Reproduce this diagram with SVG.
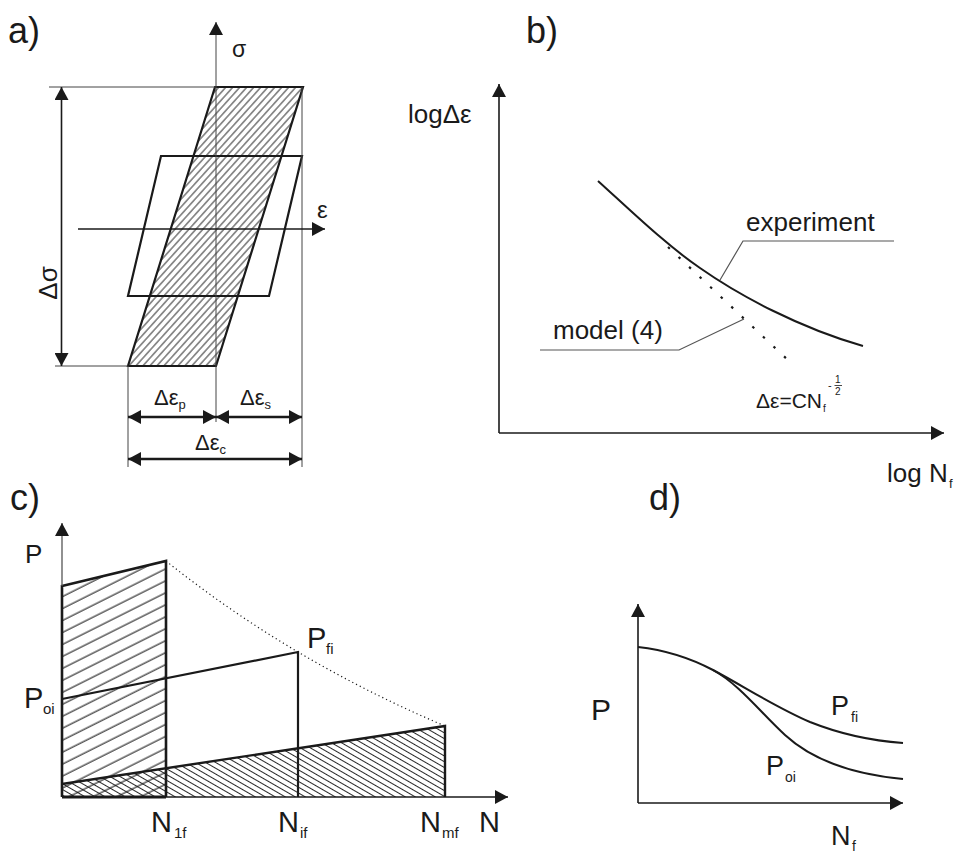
<svg xmlns="http://www.w3.org/2000/svg" width="956" height="853" viewBox="0 0 956 853">
<style>
text{font-family:"Liberation Sans",Arial,sans-serif;fill:#1a1a1a}
.thin{stroke:#444;stroke-width:1;fill:none}
.ax{stroke:#1a1a1a;stroke-width:1.6;fill:none}
.thick{stroke:#1a1a1a;stroke-width:2.2;fill:none}
.dim{stroke:#1a1a1a;stroke-width:2.6;fill:none}
.lead{stroke:#555;stroke-width:1.2;fill:none}
.crv{stroke:#1a1a1a;stroke-width:2;fill:none}
</style>
<defs>
<marker id="ah" viewBox="0 0 13 14" refX="13" refY="7" markerWidth="13" markerHeight="14" markerUnits="userSpaceOnUse" orient="auto-start-reverse"><path d="M0,0 L13,7 L0,14 z" fill="#1a1a1a"/></marker>
<pattern id="hA" patternUnits="userSpaceOnUse" width="10" height="5.2" patternTransform="rotate(-48)"><line x1="0" y1="2.6" x2="10" y2="2.6" stroke="#1a1a1a" stroke-width="0.9"/></pattern>
<pattern id="hC1" patternUnits="userSpaceOnUse" width="20" height="10.7" patternTransform="rotate(-26.6)"><line x1="0" y1="5" x2="20" y2="5" stroke="#1a1a1a" stroke-width="1.1"/></pattern>
<pattern id="hC2" patternUnits="userSpaceOnUse" width="20" height="5" patternTransform="rotate(30)"><line x1="0" y1="2.5" x2="20" y2="2.5" stroke="#1a1a1a" stroke-width="0.95"/></pattern>
</defs>
<rect width="956" height="853" fill="#fff"/>

<!-- Panel a -->
<g id="panel-a">
  <text x="8" y="43" font-size="36">a)</text>
  <g id="a-hatched-loop">
    <polygon points="215,87 303,87 216,366 128,366" fill="url(#hA)" stroke="#1a1a1a" stroke-width="2.2"/>
  </g>
  <g id="a-inner-loop">
    <polygon points="161,156 302,156 269,296 128,296" class="thick"/>
  </g>
  <g id="a-guides">
    <line x1="49" y1="87" x2="215" y2="87" class="thin"/>
    <line x1="302" y1="87" x2="302" y2="467" class="thin"/>
    <line x1="128" y1="366" x2="128" y2="467" class="thin"/>
    <line x1="55" y1="366" x2="128" y2="366" class="thin"/>
  </g>
  <g id="a-axes">
    <line x1="216" y1="422" x2="216" y2="22" class="thin" stroke-width="1.3" marker-end="url(#ah)"/>
    <line x1="78" y1="229" x2="325" y2="229" class="ax" stroke-width="2.2" marker-end="url(#ah)"/>
    <text x="232" y="57" font-size="23">σ</text>
    <text x="317" y="218" font-size="24">ε</text>
  </g>
  <g id="a-dims">
    <line x1="61.5" y1="87" x2="61.5" y2="366" class="ax" marker-start="url(#ah)" marker-end="url(#ah)"/>
    <text transform="translate(57,283) rotate(-90)" text-anchor="middle" font-size="26">Δσ</text>
    <line x1="128" y1="417" x2="216" y2="417" class="dim" marker-start="url(#ah)" marker-end="url(#ah)"/>
    <line x1="216" y1="417" x2="302" y2="417" class="dim" marker-start="url(#ah)" marker-end="url(#ah)"/>
    <line x1="128" y1="459" x2="302" y2="459" class="dim" marker-start="url(#ah)" marker-end="url(#ah)"/>
    <text x="154" y="405" font-size="22">Δε<tspan font-size="13" dy="4">p</tspan></text>
    <text x="240" y="405" font-size="22">Δε<tspan font-size="13" dy="4">s</tspan></text>
    <text x="195" y="450" font-size="22">Δε<tspan font-size="13" dy="4">c</tspan></text>
  </g>
</g>

<!-- Panel b -->
<g id="panel-b">
  <text x="526" y="43" font-size="36">b)</text>
  <g id="b-axes">
    <line x1="499" y1="433" x2="499" y2="84" class="ax" marker-end="url(#ah)"/>
    <line x1="499" y1="433" x2="944" y2="433" class="ax" marker-end="url(#ah)"/>
    <text x="408" y="123" font-size="26">logΔε</text>
    <text x="887" y="482" font-size="26">log N<tspan x="949" y="488" font-size="13">f</tspan></text>
  </g>
  <g id="b-experiment">
    <path d="M598,181 C630,210 665,244 700,268 C740,296 800,328 863,346" class="crv"/>
    <polyline points="720,280 743,241 894,241" class="lead"/>
    <text x="746" y="231" font-size="26">experiment</text>
  </g>
  <g id="b-model">
    <line x1="668" y1="247" x2="790" y2="362" stroke="#1a1a1a" stroke-width="2.2" stroke-dasharray="2.5 12"/>
    <polyline points="540,350 679,350 744,319" class="lead"/>
    <text x="553" y="339" font-size="26">model (4)</text>
  </g>
  <g id="b-formula">
    <text x="756" y="408" font-size="21" textLength="66" lengthAdjust="spacingAndGlyphs">Δε=CN</text>
    <text x="823" y="412" font-size="10">f</text>
    <text x="828" y="389" font-size="11">-</text>
    <text x="835" y="383" font-size="10">1</text>
    <line x1="834.5" y1="385.5" x2="842" y2="385.5" stroke="#1a1a1a" stroke-width="0.8"/>
    <text x="835" y="395" font-size="10">2</text>
  </g>
</g>

<!-- Panel c -->
<g id="panel-c">
  <text x="10" y="510" font-size="36">c)</text>
  <g id="c-hatch">
    <polygon points="62,586 166,561 166,797 62,797" fill="url(#hC1)"/>
    <polygon points="62,784 445,726 445,797 62,797" fill="url(#hC2)"/>
  </g>
  <g id="c-block-1">
    <polyline points="62,797 62,586 166,561 166,797" stroke="#1a1a1a" stroke-width="2.6" fill="none"/>
    <line x1="62" y1="797" x2="166" y2="797" stroke="#1a1a1a" stroke-width="3"/>
  </g>
  <g id="c-block-i">
    <polyline points="62,699 298,652 298,797" class="thick"/>
  </g>
  <g id="c-block-m">
    <polyline points="62,784 445,726 445,797" stroke="#1a1a1a" stroke-width="2.4" fill="none"/>
  </g>
  <g id="c-envelope">
    <path d="M166,561 Q290.5,660.5 445,726" stroke="#1a1a1a" stroke-width="1.2" fill="none" stroke-dasharray="1.2 3"/>
  </g>
  <g id="c-axes">
    <line x1="62" y1="586" x2="62" y2="523" stroke="#555" stroke-width="1.3" marker-end="url(#ah)"/>
    <line x1="62" y1="797" x2="508" y2="797" class="ax" stroke-width="1.8" marker-end="url(#ah)"/>
  </g>
  <g id="c-labels">
    <text x="25" y="563" font-size="26">P</text>
    <text x="24" y="708" font-size="29">P<tspan x="43" y="714" font-size="15">oi</tspan></text>
    <text x="307" y="648" font-size="29">P<tspan x="326" y="654" font-size="15">fi</tspan></text>
    <text x="151" y="832" font-size="29">N<tspan x="174" y="838" font-size="15">1f</tspan></text>
    <text x="278" y="832" font-size="29">N<tspan x="300" y="838" font-size="15">if</tspan></text>
    <text x="420" y="832" font-size="29">N<tspan x="442" y="838" font-size="15">mf</tspan></text>
    <text x="479" y="832" font-size="29">N</text>
  </g>
</g>

<!-- Panel d -->
<g id="panel-d">
  <text x="649" y="510" font-size="36">d)</text>
  <g id="d-axes">
    <line x1="638" y1="803" x2="638" y2="604" class="ax" stroke-width="1.5" marker-end="url(#ah)"/>
    <line x1="638" y1="803" x2="903" y2="803" class="ax" stroke-width="1.5" marker-end="url(#ah)"/>
    <text x="591" y="720" font-size="30">P</text>
    <text x="831" y="845" font-size="27">N<tspan x="852" y="851" font-size="14">f</tspan></text>
  </g>
  <g id="d-Pfi">
    <path d="M638,647 C665,650 692,659 713,670 C745,687 775,707 810,722 C845,736 875,741 903,743" class="crv"/>
    <text x="831" y="715" font-size="27">P<tspan x="851" y="722" font-size="14">fi</tspan></text>
  </g>
  <g id="d-Poi">
    <path d="M713,670 C740,685 760,712 785,735 C810,758 850,774 903,779" class="crv"/>
    <text x="766" y="775" font-size="27">P<tspan x="785" y="782" font-size="14">oi</tspan></text>
  </g>
</g>
</svg>
